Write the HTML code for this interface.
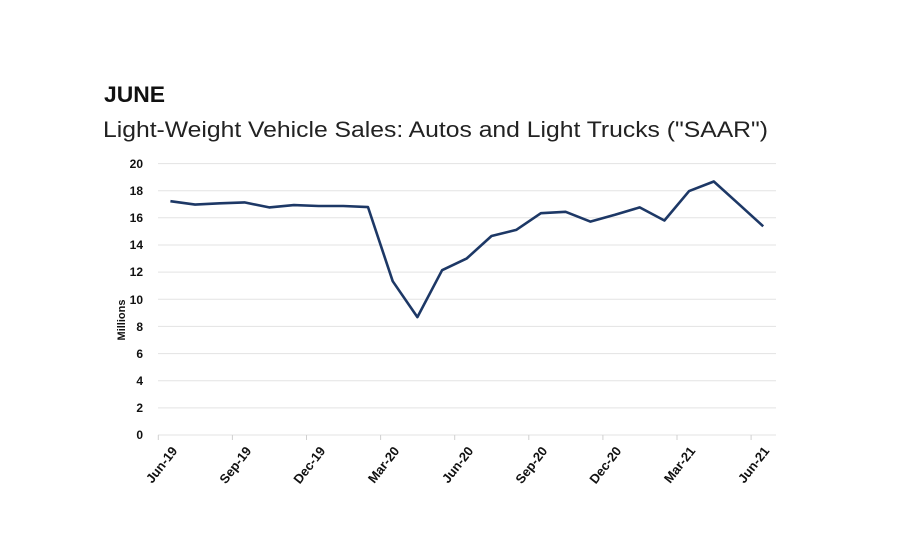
<!DOCTYPE html>
<html><head><meta charset="utf-8"><style>
body{margin:0;background:#fff;}
svg{display:block;}
</style></head><body>
<svg width="900" height="548" xmlns="http://www.w3.org/2000/svg" font-family="Liberation Sans, Arial, sans-serif">
<rect width="900" height="548" fill="#fff"/>
<text x="104" y="102" font-size="22" font-weight="bold" fill="#111" textLength="61" lengthAdjust="spacingAndGlyphs">JUNE</text>
<text x="103" y="137" font-size="22" fill="#222" textLength="665" lengthAdjust="spacingAndGlyphs">Light-Weight Vehicle Sales: Autos and Light Trucks ("SAAR")</text>
<g stroke="#e3e3e3" stroke-width="1">
<line x1="158" x2="776" y1="163.6" y2="163.6"/>
<line x1="158" x2="776" y1="190.7" y2="190.7"/>
<line x1="158" x2="776" y1="217.8" y2="217.8"/>
<line x1="158" x2="776" y1="245" y2="245"/>
<line x1="158" x2="776" y1="272.1" y2="272.1"/>
<line x1="158" x2="776" y1="299.3" y2="299.3"/>
<line x1="158" x2="776" y1="326.4" y2="326.4"/>
<line x1="158" x2="776" y1="353.6" y2="353.6"/>
<line x1="158" x2="776" y1="380.7" y2="380.7"/>
<line x1="158" x2="776" y1="407.9" y2="407.9"/>
<line x1="158" x2="776" y1="435" y2="435"/>
</g>
<g stroke="#d0d0d0" stroke-width="1">
<line x1="158.3" x2="158.3" y1="435" y2="440"/>
<line x1="232.4" x2="232.4" y1="435" y2="440"/>
<line x1="306.5" x2="306.5" y1="435" y2="440"/>
<line x1="380.6" x2="380.6" y1="435" y2="440"/>
<line x1="454.7" x2="454.7" y1="435" y2="440"/>
<line x1="528.8" x2="528.8" y1="435" y2="440"/>
<line x1="602.9" x2="602.9" y1="435" y2="440"/>
<line x1="677" x2="677" y1="435" y2="440"/>
<line x1="751.1" x2="751.1" y1="435" y2="440"/>
</g>
<g font-size="12" font-weight="bold" fill="#111" text-anchor="end">
<text x="143" y="168">20</text><text x="143" y="195">18</text><text x="143" y="222">16</text>
<text x="143" y="249">14</text><text x="143" y="276">12</text><text x="143" y="304">10</text>
<text x="143" y="331">8</text><text x="143" y="358">6</text><text x="143" y="385">4</text>
<text x="143" y="412">2</text><text x="143" y="439">0</text>
</g>
<text transform="translate(125,320) rotate(-90)" font-size="11" font-weight="bold" fill="#111" text-anchor="middle">Millions</text>
<g font-size="13" font-weight="bold" fill="#111" text-anchor="end">
<text transform="translate(178,451) rotate(-52)">Jun-19</text>
<text transform="translate(252,451) rotate(-52)">Sep-19</text>
<text transform="translate(326,451) rotate(-52)">Dec-19</text>
<text transform="translate(400,451) rotate(-52)">Mar-20</text>
<text transform="translate(474,451) rotate(-52)">Jun-20</text>
<text transform="translate(548,451) rotate(-52)">Sep-20</text>
<text transform="translate(622,451) rotate(-52)">Dec-20</text>
<text transform="translate(696,451) rotate(-52)">Mar-21</text>
<text transform="translate(770,451) rotate(-52)">Jun-21</text>
</g>
<polyline fill="none" stroke="#1d3866" stroke-width="2.6" stroke-linejoin="round" points="170.4,201.2 195.1,204.6 219.8,203.3 244.5,202.4 269.2,207.4 293.9,205.1 318.6,206 343.3,206 368,207.1 392.7,281.2 417.4,317.1 442.1,270.2 466.8,258.4 491.5,236 516.2,229.9 540.9,213.2 565.6,211.8 590.3,221.6 615,214.8 639.7,207.4 664.4,220.5 689.1,191.1 713.8,181.5 738.5,203.8 763.2,226.3"/>
</svg>
</body></html>
